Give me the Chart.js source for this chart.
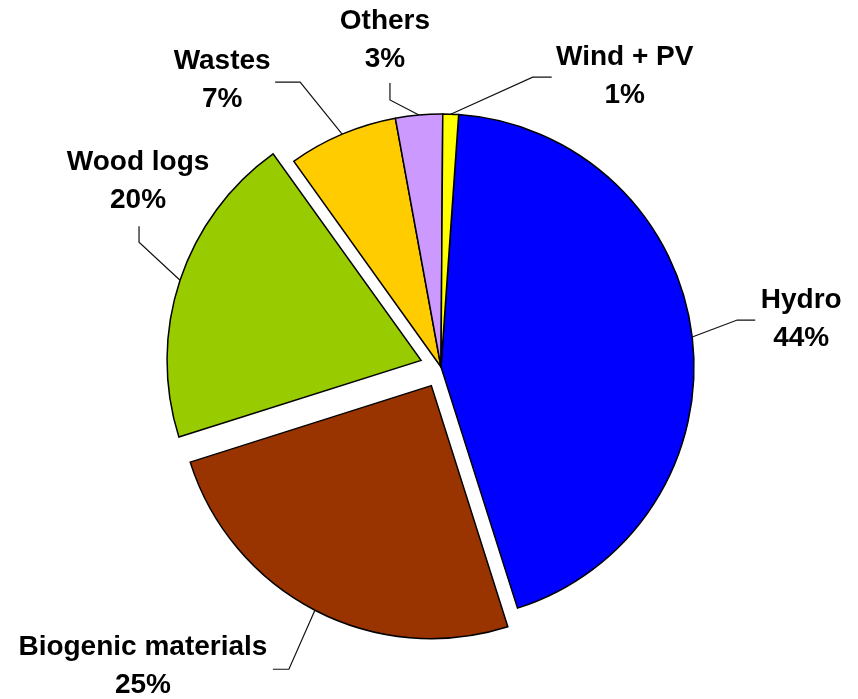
<!DOCTYPE html>
<html>
<head>
<meta charset="utf-8">
<script src="https://cdn.jsdelivr.net/npm/chart.js@4"></script>
<style>
  html, body { margin: 0; padding: 0; background: #ffffff; }
  #wrap { width: 858px; height: 699px; }
</style>
</head>
<body>
<div id="wrap"><canvas id="c" width="858" height="699"></canvas></div>
<script>
const categories = ["Hydro", "Biogenic materials", "Wood logs", "Wastes", "Others", "Wind + PV"];
const shares = [44, 25, 20, 7, 3, 1];
const pctLabels = ["44%", "25%", "20%", "7%", "3%", "1%"];
const sliceColors = ["#0000FF", "#993300", "#99CC00", "#FFCC00", "#CC99FF", "#FFFF00"];
const explode = [0, 84, 84, 0, 0, 0];

// label layout relative to each slice's leader anchor on the rim
const labelLayout = [
  { elbow: [45, -17], end: [63, -17], text: [109, -18] },
  { elbow: [-26, 59], end: [-42, 59], text: [-172, 56] },
  { elbow: [-41, -38], end: [-41, -54], text: [-42, -99] },
  { elbow: [-42, -52], end: [-67, -52], text: [-120, -54] },
  { elbow: [-29, -15], end: [-29, -32], text: [-34, -75] },
  { elbow: [82, -37], end: [101, -37], text: [174, -38] }
];

const leaderPlugin = {
  id: 'leaders',
  afterDatasetsDraw(chart) {
    const ctx = chart.ctx;
    const meta = chart.getDatasetMeta(0);
    ctx.save();
    meta.data.forEach((arc, i) => {
      const p = arc.getProps(['x', 'y', 'startAngle', 'endAngle', 'outerRadius', 'circumference'], true);
      const off = (arc.options.offset || 0) / 4;
      const fix = 1 - Math.sin(Math.min(Math.PI, p.circumference || 0));
      const mid = (p.startAngle + p.endAngle) / 2;
      const r = p.outerRadius + off + off * fix;
      const ax = p.x + Math.cos(mid) * r;
      const ay = p.y + Math.sin(mid) * r;
      const L = labelLayout[i];
      ctx.strokeStyle = '#111111';
      ctx.lineWidth = 1.2;
      ctx.beginPath();
      ctx.moveTo(ax, ay);
      ctx.lineTo(ax + L.elbow[0], ay + L.elbow[1]);
      ctx.lineTo(ax + L.end[0], ay + L.end[1]);
      ctx.stroke();
      ctx.fillStyle = '#000000';
      ctx.font = 'bold 28px "Liberation Sans", Arial, sans-serif';
      ctx.textAlign = 'center';
      ctx.textBaseline = 'middle';
      const tx = ax + L.text[0];
      const ty = ay + L.text[1];
      ctx.fillText(categories[i], tx, ty - 19);
      ctx.fillText(pctLabels[i], tx, ty + 19);
    });
    ctx.restore();
  }
};

new Chart(document.getElementById('c'), {
  type: 'pie',
  data: {
    labels: categories,
    datasets: [{
      data: shares,
      backgroundColor: sliceColors,
      borderColor: '#000000',
      borderWidth: 1.5,
      borderJoinStyle: 'miter',
      offset: explode,
      hoverOffset: 0
    }]
  },
  options: {
    responsive: false,
    animation: false,
    rotation: 4,
    radius: 253,
    layout: { padding: { left: 24, right: 0, top: 35, bottom: 0 } },
    plugins: {
      legend: { display: false },
      tooltip: { enabled: false }
    },
    events: []
  },
  plugins: [leaderPlugin]
});
</script>
</body>
</html>
